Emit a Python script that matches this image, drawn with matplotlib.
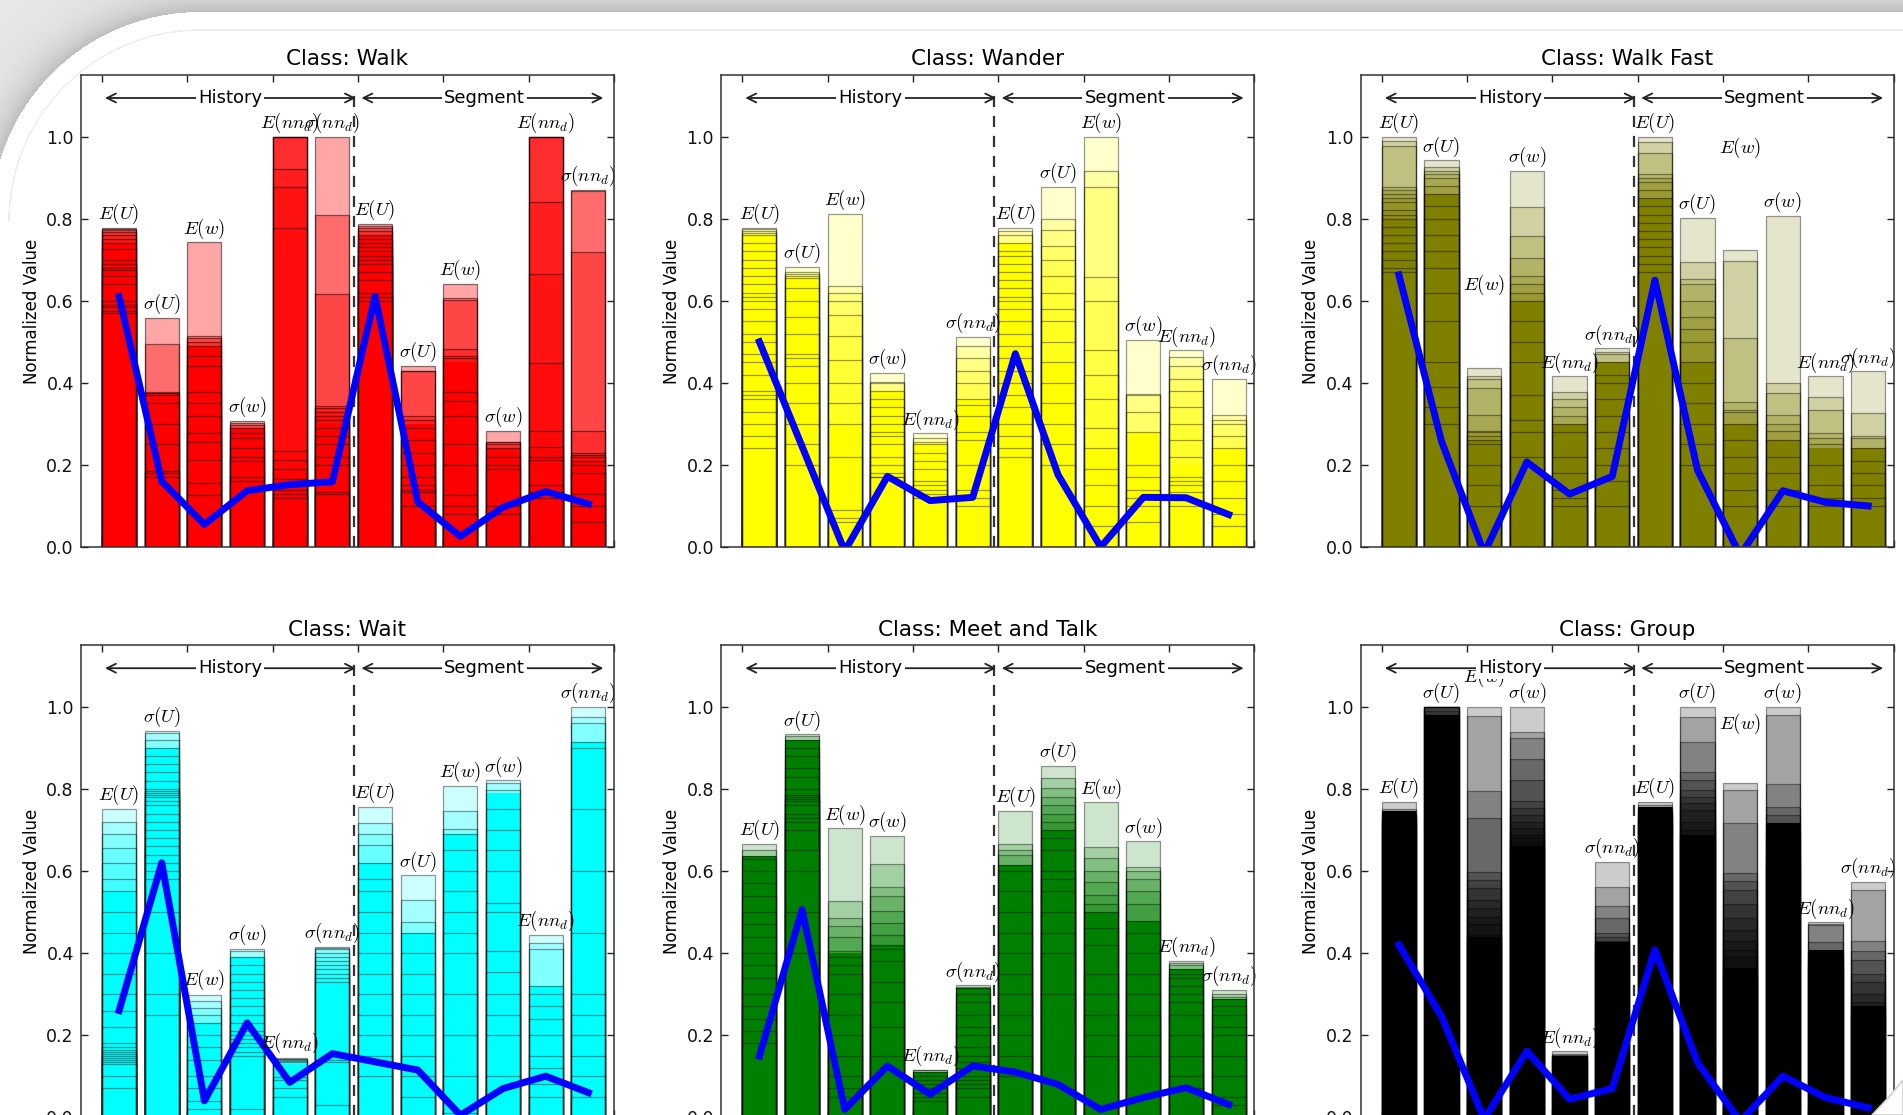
import numpy as np
import matplotlib
matplotlib.use('Agg')
import matplotlib.pyplot as plt
from matplotlib.patches import Polygon
from matplotlib.colors import to_rgba

plt.rcParams['font.family'] = ['DejaVu Sans']
plt.rcParams['mathtext.fontset'] = 'cm'

# ---------------- data ----------------
feature_labels = [r'$E(U)$', r'$\sigma(U)$', r'$E(w)$', r'$\sigma(w)$', r'$E(nn_d)$', r'$\sigma(nn_d)$'] * 2
classes = ['Walk', 'Wander', 'Walk Fast', 'Wait', 'Meet and Talk', 'Group']
class_colors = ['#ff0000', '#ffff00', '#808000', '#00ffff', '#008000', '#000000']
class_alpha = [0.35, 0.2, 0.2, 0.2, 0.2, 0.2]
edge_alpha = [0.5, 0.4, 0.4, 0.4, 0.4, 0.4]

# per-sample normalized values for each of the 12 features (overlaid translucent bars)
walk_samples = [
    [0.778, 0.775, 0.772, 0.768, 0.76, 0.75, 0.74, 0.725, 0.70, 0.69, 0.68, 0.675, 0.66, 0.64, 0.60, 0.59, 0.585, 0.575, 0.57],
    [0.558, 0.494, 0.378, 0.376, 0.37, 0.35, 0.30, 0.25, 0.185, 0.18, 0.17],
    [0.742, 0.513, 0.508, 0.50, 0.49, 0.465, 0.44, 0.378, 0.352, 0.32, 0.278, 0.257, 0.213, 0.157, 0.126],
    [0.307, 0.303, 0.297, 0.29, 0.278, 0.265, 0.24, 0.22, 0.21, 0.17, 0.16],
    [1.0, 1.0, 1.0, 1.0, 0.92, 0.878, 0.778, 0.235, 0.213, 0.19, 0.165, 0.15, 0.14, 0.13, 0.12],
    [1.0, 0.809, 0.617, 0.343, 0.338, 0.33, 0.32, 0.31, 0.29, 0.27, 0.25, 0.22, 0.20, 0.135, 0.13],
    [0.787, 0.783, 0.778, 0.77, 0.76, 0.75, 0.74, 0.73, 0.72, 0.71, 0.70, 0.69, 0.67, 0.65, 0.62, 0.61, 0.60],
    [0.441, 0.43, 0.428, 0.32, 0.31, 0.29, 0.26, 0.23, 0.20, 0.17, 0.15, 0.14, 0.135, 0.10],
    [0.642, 0.606, 0.603, 0.483, 0.465, 0.46, 0.378, 0.356, 0.32, 0.25, 0.20, 0.126, 0.10, 0.08],
    [0.283, 0.257, 0.255, 0.25, 0.24, 0.22, 0.20, 0.19, 0.10, 0.08],
    [1.0, 1.0, 1.0, 1.0, 0.84, 0.665, 0.448, 0.283, 0.243, 0.22, 0.213, 0.15, 0.135, 0.12],
    [0.87, 0.868, 0.719, 0.283, 0.23, 0.225, 0.22, 0.21, 0.20, 0.18, 0.13, 0.10, 0.06],
]
walk_solid = [0.74, 0.376, 0.49, 0.29, 0.0, 0.30, 0.76, 0.30, 0.45, 0.24, 0.0, 0.21]
walk_label_y = [0.778, 0.558, 0.742, 0.307, 1.0, 1.0, 0.787, 0.441, 0.642, 0.283, 1.0, 0.87]
walk_line = [0.61, 0.16, 0.055, 0.137, 0.152, 0.159, 0.611, 0.11, 0.026, 0.097, 0.135, 0.105]

wander_samples = [
    [0.777, 0.775, 0.77, 0.765, 0.76, 0.74, 0.72, 0.70, 0.68, 0.66, 0.64, 0.62, 0.61, 0.60, 0.58, 0.55, 0.52, 0.50, 0.47, 0.45, 0.42, 0.38, 0.37, 0.36, 0.33, 0.30, 0.27, 0.24],
    [0.683, 0.67, 0.665, 0.66, 0.655, 0.63, 0.60, 0.56, 0.52, 0.47, 0.46, 0.44, 0.40, 0.35, 0.30, 0.25, 0.20],
    [0.811, 0.636, 0.62, 0.60, 0.565, 0.515, 0.455, 0.40, 0.35, 0.30, 0.22, 0.09, 0.07, 0.06],
    [0.424, 0.402, 0.40, 0.38, 0.36, 0.34, 0.32, 0.30, 0.28, 0.27, 0.25, 0.22, 0.20, 0.18, 0.17, 0.17],
    [0.277, 0.265, 0.257, 0.25, 0.23, 0.21, 0.19, 0.16, 0.15, 0.14, 0.13, 0.12],
    [0.512, 0.49, 0.46, 0.43, 0.40, 0.36, 0.345, 0.32, 0.28, 0.26, 0.20, 0.14, 0.12, 0.10],
    [0.777, 0.77, 0.76, 0.74, 0.72, 0.71, 0.69, 0.67, 0.65, 0.63, 0.61, 0.60, 0.58, 0.55, 0.52, 0.49, 0.46, 0.43, 0.40, 0.37, 0.34, 0.30, 0.27, 0.24, 0.22],
    [0.878, 0.80, 0.773, 0.734, 0.70, 0.66, 0.62, 0.58, 0.55, 0.50, 0.45, 0.40, 0.35, 0.30, 0.25, 0.20],
    [1.0, 0.917, 0.876, 0.657, 0.60, 0.479, 0.419, 0.36, 0.289, 0.24, 0.19, 0.15, 0.10, 0.05],
    [0.505, 0.372, 0.37, 0.33, 0.28, 0.20, 0.17, 0.14, 0.12, 0.10, 0.06],
    [0.479, 0.463, 0.44, 0.41, 0.38, 0.34, 0.30, 0.26, 0.22, 0.17, 0.16, 0.15, 0.135, 0.10],
    [0.41, 0.321, 0.31, 0.30, 0.27, 0.24, 0.20, 0.16, 0.12, 0.08, 0.05],
]
wander_solid = [0.76, 0.655, 0.30, 0.38, 0.25, 0.36, 0.74, 0.45, 0.24, 0.28, 0.20, 0.24]
wander_label_y = [0.777, 0.683, 0.811, 0.424, 0.277, 0.512, 0.777, 0.878, 1.0, 0.505, 0.479, 0.41]
wander_line = [0.50, 0.245, -0.01, 0.172, 0.113, 0.121, 0.471, 0.176, 0.0, 0.121, 0.12, 0.079]

walkfast_samples = [
    [1.0, 0.99, 0.978, 0.877, 0.87, 0.86, 0.85, 0.84, 0.82, 0.81, 0.80, 0.78, 0.76, 0.74, 0.72, 0.70, 0.68, 0.67],
    [0.942, 0.925, 0.917, 0.91, 0.90, 0.88, 0.86, 0.83, 0.80, 0.76, 0.72, 0.68, 0.62, 0.55, 0.45, 0.39, 0.34, 0.30],
    [0.437, 0.417, 0.41, 0.387, 0.322, 0.283, 0.28, 0.27, 0.26, 0.25, 0.20, 0.15, 0.10],
    [0.917, 0.828, 0.757, 0.704, 0.661, 0.64, 0.62, 0.60, 0.55, 0.50, 0.45, 0.37, 0.31, 0.28, 0.22],
    [0.416, 0.378, 0.36, 0.34, 0.32, 0.30, 0.28, 0.22, 0.18, 0.14, 0.12, 0.10],
    [0.484, 0.476, 0.47, 0.45, 0.42, 0.40, 0.36, 0.32, 0.28, 0.24, 0.20, 0.16, 0.10],
    [1.0, 0.987, 0.961, 0.909, 0.90, 0.89, 0.87, 0.85, 0.83, 0.81, 0.79, 0.77, 0.75, 0.73, 0.71, 0.69, 0.67],
    [0.802, 0.694, 0.652, 0.64, 0.60, 0.56, 0.53, 0.50, 0.45, 0.40, 0.35, 0.30, 0.25, 0.20],
    [0.723, 0.697, 0.509, 0.354, 0.335, 0.33, 0.30, 0.26, 0.22, 0.18, 0.14, 0.10],
    [0.807, 0.40, 0.374, 0.322, 0.30, 0.283, 0.26, 0.22, 0.18, 0.14, 0.10],
    [0.416, 0.365, 0.335, 0.278, 0.265, 0.25, 0.20, 0.15, 0.12, 0.10],
    [0.428, 0.326, 0.27, 0.265, 0.24, 0.21, 0.18, 0.15, 0.12, 0.10],
]
walkfast_solid = [0.80, 0.86, 0.26, 0.60, 0.30, 0.45, 0.85, 0.45, 0.30, 0.26, 0.24, 0.24]
walkfast_label_y = [1.0, 0.942, 0.605, 0.917, 0.416, 0.484, 1.0, 0.802, 0.94, 0.807, 0.416, 0.428]
walkfast_line = [0.663, 0.257, -0.015, 0.207, 0.129, 0.172, 0.65, 0.187, -0.02, 0.137, 0.109, 0.10]

wait_samples = [
    [0.751, 0.719, 0.69, 0.656, 0.62, 0.58, 0.55, 0.50, 0.45, 0.40, 0.35, 0.30, 0.26, 0.22, 0.18, 0.17, 0.165, 0.16, 0.155, 0.15, 0.145, 0.14, 0.135, 0.13, 0.10, 0.07],
    [0.941, 0.935, 0.92, 0.90, 0.88, 0.86, 0.84, 0.82, 0.80, 0.795, 0.79, 0.785, 0.78, 0.77, 0.76, 0.74, 0.72, 0.70, 0.68, 0.66, 0.64, 0.62, 0.60, 0.58, 0.50, 0.40, 0.30, 0.25],
    [0.299, 0.282, 0.265, 0.25, 0.23, 0.20, 0.17, 0.14, 0.10, 0.07, 0.04, 0.02],
    [0.411, 0.405, 0.39, 0.37, 0.35, 0.33, 0.31, 0.29, 0.27, 0.25, 0.23, 0.21, 0.20, 0.19, 0.18, 0.17, 0.16, 0.15, 0.02],
    [0.144, 0.143, 0.142, 0.14, 0.138, 0.135, 0.097, 0.09, 0.07, 0.05],
    [0.415, 0.412, 0.41, 0.40, 0.39, 0.38, 0.37, 0.36, 0.35, 0.34, 0.33, 0.14, 0.135, 0.03],
    [0.757, 0.716, 0.69, 0.664, 0.62, 0.58, 0.55, 0.50, 0.45, 0.40, 0.35, 0.30, 0.25, 0.20, 0.15, 0.10],
    [0.589, 0.529, 0.475, 0.45, 0.40, 0.35, 0.30, 0.25, 0.20, 0.15, 0.10, 0.05],
    [0.808, 0.746, 0.703, 0.69, 0.65, 0.60, 0.55, 0.50, 0.45, 0.40, 0.30, 0.20, 0.10, 0.01],
    [0.821, 0.815, 0.798, 0.75, 0.70, 0.65, 0.60, 0.523, 0.50, 0.406, 0.355, 0.30, 0.25, 0.20, 0.10],
    [0.445, 0.424, 0.41, 0.32, 0.30, 0.27, 0.24, 0.20, 0.15, 0.12, 0.08, 0.05],
    [1.0, 0.974, 0.96, 0.914, 0.90, 0.75, 0.60, 0.45, 0.30, 0.25, 0.20, 0.15, 0.10, 0.05],
]
wait_solid = [0.55, 0.90, 0.23, 0.39, 0.13, 0.33, 0.62, 0.45, 0.69, 0.79, 0.32, 0.914]
wait_label_y = [0.751, 0.941, 0.30, 0.411, 0.148, 0.415, 0.757, 0.589, 0.808, 0.821, 0.445, 1.0]
wait_line = [0.26, 0.62, 0.04, 0.23, 0.085, 0.155, 0.135, 0.115, 0.005, 0.07, 0.10, 0.06]

meet_samples = [
    [0.666, 0.652, 0.636, 0.63, 0.60, 0.57, 0.54, 0.50, 0.47, 0.44, 0.40, 0.37, 0.34, 0.30, 0.27, 0.24, 0.21, 0.18],
    [0.933, 0.928, 0.92, 0.90, 0.88, 0.85, 0.83, 0.80, 0.785, 0.78, 0.775, 0.77, 0.76, 0.74, 0.73, 0.72, 0.70, 0.65, 0.60, 0.50, 0.40],
    [0.704, 0.526, 0.485, 0.465, 0.44, 0.404, 0.39, 0.37, 0.35, 0.30, 0.25, 0.20, 0.15, 0.10, 0.07, 0.05],
    [0.686, 0.618, 0.562, 0.538, 0.502, 0.473, 0.445, 0.42, 0.41, 0.38, 0.33, 0.28, 0.22, 0.15],
    [0.116, 0.114, 0.11, 0.10, 0.09, 0.08, 0.07, 0.06, 0.05, 0.04],
    [0.321, 0.318, 0.315, 0.30, 0.28, 0.25, 0.22, 0.20, 0.17, 0.15, 0.135, 0.12, 0.10, 0.09, 0.08, 0.07, 0.05],
    [0.747, 0.665, 0.652, 0.64, 0.615, 0.60, 0.55, 0.50, 0.45, 0.40, 0.35, 0.30, 0.25, 0.20, 0.15, 0.10],
    [0.856, 0.827, 0.802, 0.78, 0.761, 0.74, 0.72, 0.70, 0.68, 0.65, 0.60, 0.58, 0.55, 0.50, 0.45, 0.40, 0.30],
    [0.767, 0.658, 0.631, 0.60, 0.574, 0.542, 0.52, 0.50, 0.46, 0.42, 0.35, 0.30, 0.25, 0.20, 0.15],
    [0.672, 0.609, 0.60, 0.58, 0.55, 0.52, 0.477, 0.45, 0.40, 0.35, 0.30, 0.25, 0.20, 0.15],
    [0.381, 0.375, 0.37, 0.36, 0.35, 0.34, 0.32, 0.30, 0.28, 0.25, 0.20, 0.15, 0.10, 0.07],
    [0.311, 0.30, 0.292, 0.287, 0.27, 0.25, 0.22, 0.20, 0.15, 0.10, 0.05, 0.03],
]
meet_solid = [0.636, 0.92, 0.40, 0.42, 0.11, 0.315, 0.615, 0.70, 0.50, 0.477, 0.36, 0.287]
meet_label_y = [0.666, 0.933, 0.704, 0.686, 0.116, 0.321, 0.747, 0.856, 0.767, 0.672, 0.381, 0.311]
meet_line = [0.149, 0.506, 0.019, 0.125, 0.056, 0.125, 0.11, 0.08, 0.019, 0.048, 0.072, 0.031]

group_samples = [
    [0.769, 0.751, 0.745, 0.74, 0.74, 0.735, 0.73, 0.73, 0.72, 0.72, 0.70],
    [1.0, 1.0, 1.0, 1.0, 1.0, 1.0, 0.99, 0.98],
    [1.0, 0.978, 0.794, 0.729, 0.597, 0.578, 0.558, 0.53, 0.51, 0.487, 0.47, 0.445, 0.44, 0.43, 0.42],
    [1.0, 0.939, 0.925, 0.874, 0.822, 0.771, 0.753, 0.737, 0.72, 0.704, 0.688, 0.68, 0.67, 0.66],
    [0.161, 0.155, 0.152, 0.15, 0.15, 0.148, 0.145, 0.14, 0.14],
    [0.623, 0.561, 0.515, 0.486, 0.449, 0.44, 0.43, 0.428, 0.42, 0.41, 0.40],
    [0.769, 0.761, 0.755, 0.75, 0.745, 0.74, 0.74, 0.73, 0.72, 0.72],
    [1.0, 0.976, 0.915, 0.84, 0.822, 0.798, 0.78, 0.765, 0.749, 0.72, 0.70, 0.688, 0.68, 0.67],
    [0.815, 0.798, 0.717, 0.595, 0.576, 0.554, 0.52, 0.486, 0.457, 0.43, 0.408, 0.39, 0.364, 0.35, 0.34],
    [1.0, 0.98, 0.811, 0.757, 0.737, 0.717, 0.70, 0.68, 0.65, 0.63, 0.61, 0.60],
    [0.475, 0.472, 0.468, 0.428, 0.408, 0.40, 0.39, 0.38, 0.37, 0.36],
    [0.574, 0.554, 0.43, 0.404, 0.384, 0.35, 0.33, 0.30, 0.28, 0.27, 0.26, 0.25],
]
group_solid = [0.745, 0.98, 0.44, 0.66, 0.15, 0.428, 0.755, 0.688, 0.364, 0.717, 0.408, 0.27]
group_label_y = [0.769, 1.0, 1.04, 1.0, 0.161, 0.623, 0.769, 1.0, 0.925, 1.0, 0.475, 0.574]
group_line = [0.42, 0.246, -0.005, 0.161, 0.044, 0.07, 0.408, 0.133, -0.01, 0.10, 0.048, 0.023]

panel_samples = [walk_samples, wander_samples, walkfast_samples, wait_samples, meet_samples, group_samples]
panel_solid = [walk_solid, wander_solid, walkfast_solid, wait_solid, meet_solid, group_solid]
panel_label_y = [walk_label_y, wander_label_y, walkfast_label_y, wait_label_y, meet_label_y, group_label_y]
panel_line = [walk_line, wander_line, walkfast_line, wait_line, meet_line, group_line]

# ---------------- figure ----------------
W, H = 1903, 1115
fig = plt.figure(figsize=(W / 100, H / 100), dpi=100)
fig.patch.set_facecolor('white')

# decorative slide background (rounded page corner with soft grey surround)
yy, xx = np.mgrid[0:H, 0:W] + 0.5
cx, cy, R, top = 200.0, 221.0, 209.0, 12.0
s = yy - top
corner = (xx < cx) & (yy < cy)
dist = np.hypot(xx - cx, yy - cy)
s = np.where(corner, R - dist, s)
bg = np.full((H, W), 255.0)
out = s < 0
bg[out] = 232 - 42 * np.exp(s[out] / 18.0)
inner = np.abs(s - 18) < 0.7
bg[inner] = 236
bg_rgb = np.dstack([bg, bg, bg]) / 255.0
ax_bg = fig.add_axes([0, 0, 1, 1], zorder=-10)
ax_bg.imshow(bg_rgb, extent=(0, W, H, 0), aspect='auto', interpolation='bilinear')
ax_bg.set_xlim(0, W)
ax_bg.set_ylim(H, 0)
ax_bg.axis('off')

lefts = [80.7 / W, 721.0 / W, 1360.5 / W]
width = 533.3 / W
height = 472.0 / H
bottoms = [1 - 547.0 / H, -0.002]

for k in range(6):
    r, c = divmod(k, 3)
    ax = fig.add_axes([lefts[c], bottoms[r], width, height])
    color = class_colors[k]
    face = to_rgba(color, class_alpha[k])
    edge = to_rgba('black', edge_alpha[k])
    samples = panel_samples[k]
    x = np.arange(12)
    ax.bar(x, panel_solid[k], width=0.8, align='edge', color=color, edgecolor='none', zorder=2)
    xs = np.concatenate([[i] * len(v) for i, v in enumerate(samples)])
    hs = np.concatenate([np.asarray(v, float) for v in samples])
    ax.bar(xs, hs, width=0.8, align='edge', color=face,
           edgecolor=edge, linewidth=0.9, zorder=3)
    ax.plot([5.9, 5.9], [0, 1.11], color='#333333', lw=1.6, dashes=(5, 4), zorder=4)
    ax.plot(x + 0.4, panel_line[k], color='#0000ff', lw=5, zorder=5, solid_joinstyle='round')
    for i in range(12):
        ax.text(x[i] + 0.4, panel_label_y[k][i] + 0.004, feature_labels[i], ha='center',
                va='bottom', fontsize=13.5, zorder=6)
    # History / Segment arrows
    ay = 1.094
    ax.annotate('', xy=(0.07, ay), xytext=(5.95, ay),
                arrowprops=dict(arrowstyle='<->', color='#222222', lw=1.3,
                                shrinkA=0, shrinkB=0, mutation_scale=16), zorder=7)
    ax.annotate('', xy=(6.08, ay), xytext=(11.75, ay),
                arrowprops=dict(arrowstyle='<->', color='#222222', lw=1.3,
                                shrinkA=0, shrinkB=0, mutation_scale=16), zorder=7)
    ax.text(3.0, ay, 'History', ha='center', va='center', fontsize=13, zorder=8,
            bbox=dict(boxstyle='square,pad=0.12', fc='white', ec='none'))
    ax.text(8.97, ay, 'Segment', ha='center', va='center', fontsize=13, zorder=8,
            bbox=dict(boxstyle='square,pad=0.12', fc='white', ec='none'))

    ax.set_xlim(-0.5, 12)
    ax.set_ylim(0, 1.15)
    ax.set_xticks(range(0, 13, 2))
    ax.set_xticklabels([])
    ax.set_yticks([0.0, 0.2, 0.4, 0.6, 0.8, 1.0])
    ax.set_yticklabels(['0.0', '0.2', '0.4', '0.6', '0.8', '1.0'])
    ax.tick_params(direction='in', top=True, right=True, length=5, width=1,
                   labelsize=12.5, pad=5, colors='#222222', labelcolor='#111111')
    for sp in ax.spines.values():
        sp.set_linewidth(1.1)
        sp.set_color('#333333')
        sp.set_zorder(9)
    ax.set_ylabel('Normalized Value', fontsize=12, labelpad=4)
    ax.set_title('Class: ' + classes[k], fontsize=15.5, pad=7)

# page-curl corner at bottom right
ax_ov = fig.add_axes([0, 0, 1, 1], zorder=20)
ax_ov.set_xlim(0, W)
ax_ov.set_ylim(H, 0)
ax_ov.axis('off')
ax_ov.patch.set_visible(False)
ax_ov.add_patch(Polygon([(1903, 1080), (1889, 1097), (1872, 1115), (1903, 1115)],
                        closed=True, fc='white', ec='#cfcfcf', lw=1.2))

fig.savefig('out.png', dpi=100)
